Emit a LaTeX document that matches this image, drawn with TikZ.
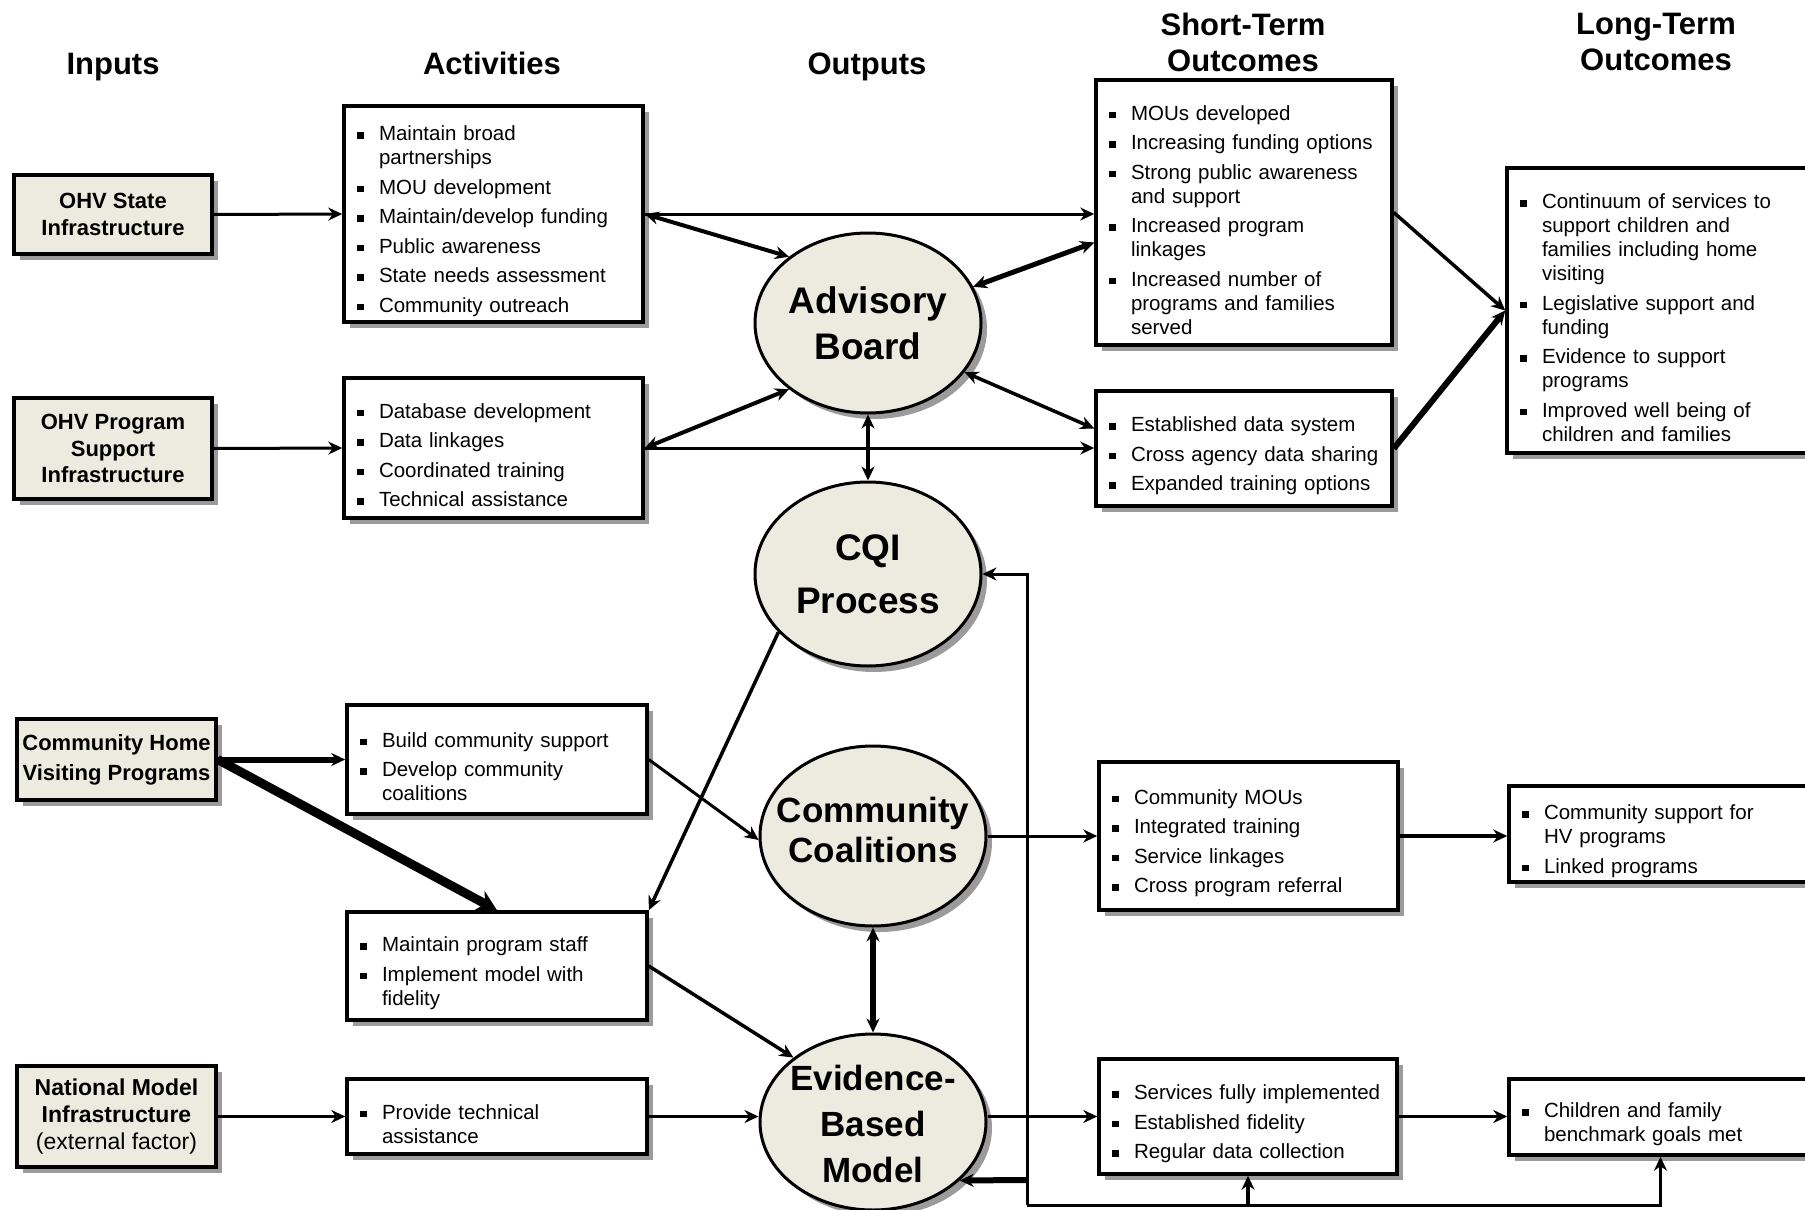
\documentclass[tikz,border=0pt]{standalone}
\usepackage{fontspec}
\setmainfont{Liberation Sans}
\usetikzlibrary{arrows.meta,shapes.geometric,shadows,calc}
\definecolor{beige}{RGB}{237,235,224}
\definecolor{shadowgray}{RGB}{155,155,155}
\newcommand{\bitem}[1]{\setlength{\parskip}{5.5pt}\hyphenpenalty=10000\exhyphenpenalty=10000\par\hangindent=23pt\hangafter=1\noindent\makebox[23pt][l]{\hspace{1pt}\rule[2pt]{6.5pt}{6.5pt}}#1\par}
\begin{document}
\begin{tikzpicture}[x=1pt,y=-1pt,
  sh/.style={drop shadow={shadow xshift=6pt,shadow yshift=-6pt,fill=shadowgray,opacity=1}},
  inbox/.style={draw,line width=3.5pt,fill=beige,sh,align=center,inner sep=0pt,
    font=\bfseries\fontsize{22}{26.5}\selectfont},
  abox/.style={draw,line width=3.5pt,fill=white,sh,align=left,inner xsep=12pt,inner ysep=0pt,
    font=\fontsize{20.5}{24}\selectfont},
  oval/.style={ellipse,draw,line width=3pt,fill=beige,sh,inner sep=0pt,minimum width=226pt},
  otext/.style={align=center,font=\bfseries\fontsize{37}{46}\selectfont},
  ttl/.style={align=center,font=\bfseries\fontsize{31}{36}\selectfont},
  tip/.tip={Stealth[length=14pt,width=13pt]},
  bigtip/.tip={Stealth[length=20pt,width=22pt]},
  conn/.style={line width=3pt,-tip},
  bconn/.style={line width=3pt,tip-tip}
]
\useasboundingbox (0,0) rectangle (1805,1210);
\fill[white] (0,0) rectangle (1805,1210);

% titles
\node[ttl,anchor=base] (tIn) at (113,74) {Inputs};
\node[ttl,anchor=base] (tAct) at (492,74) {Activities};
\node[ttl,anchor=base] (tOut) at (867,74) {Outputs};
\node[ttl] (tST) at (1243,42) {Short-Term\\Outcomes};
\node[ttl] (tLT) at (1656,42) {Long-Term\\Outcomes};

% inputs
\node[inbox,minimum width=198pt,minimum height=79pt] (IN1) at (113,214.5) {OHV State\\Infrastructure};
\node[inbox,minimum width=198pt,minimum height=101pt] (IN2) at (113,448.5) {OHV Program\\Support\\Infrastructure};
\node[inbox,minimum width=199pt,minimum height=81pt,font=\bfseries\fontsize{22}{30}\selectfont] (IN3) at (116.5,759.5) {Community Home\\Visiting Programs};
\node[inbox,minimum width=199pt,minimum height=101pt,font=\bfseries\fontsize{23}{27}\selectfont] (IN4) at (116.5,1116.5) {National Model\\Infrastructure\\{\mdseries (external factor)}};

% activities
\node[abox,minimum width=299pt,minimum height=216pt,text width=275pt] (A1) at (493.5,214) {%
\bitem{Maintain broad\newline partnerships}
\bitem{MOU development}
\bitem{Maintain/develop funding}
\bitem{Public awareness}
\bitem{State needs assessment}
\bitem{Community outreach}};
\node[abox,minimum width=299pt,minimum height=140pt,text width=275pt] (A2) at (493.5,448) {%
\bitem{Database development}
\bitem{Data linkages}
\bitem{Coordinated training}
\bitem{Technical assistance}};
\node[abox,minimum width=300pt,minimum height=109pt,text width=276pt] (A3) at (497,759.5) {%
\bitem{Build community support}
\bitem{Develop community\newline coalitions}};
\node[abox,minimum width=300pt,minimum height=108pt,text width=276pt] (A4) at (497,966) {%
\bitem{Maintain program staff}
\bitem{Implement model with\newline fidelity}};
\node[abox,minimum width=300pt,minimum height=75pt,text width=276pt] (A5) at (497,1116.5) {%
\bitem{Provide technical\newline assistance}};

% outputs
\node[oval,minimum height=180pt] (AB) at (868,323) {};
\node[otext] (ABt) at (868,323) {Advisory\\Board};
\node[oval,minimum height=184pt] (CQI) at (868,574) {};
\node[otext,font=\bfseries\fontsize{37}{53}\selectfont] (CQIt) at (868,574) {CQI\\Process};
\node[oval,minimum height=180pt] (CC) at (873,836) {};
\node[otext,font=\bfseries\fontsize{35}{40}\selectfont] (CCt) at (873,830) {Community\\Coalitions};
\node[oval,minimum height=176pt] (EBM) at (873,1122) {};
\node[otext,font=\bfseries\fontsize{35}{46}\selectfont] (EBMt) at (873,1124) {Evidence-\\Based\\Model};

% short-term outcomes
\node[abox,minimum width=296pt,minimum height=265pt,text width=272pt] (ST1) at (1244,212.5) {%
\bitem{MOUs developed}
\bitem{Increasing funding options}
\bitem{Strong public awareness\newline and support}
\bitem{Increased program\newline linkages}
\bitem{Increased number of\newline programs and families\newline served}};
\node[abox,minimum width=296pt,minimum height=115pt,text width=272pt] (ST2) at (1244,448.5) {%
\bitem{Established data system}
\bitem{Cross agency data sharing}
\bitem{Expanded training options}};
\node[abox,minimum width=299pt,minimum height=148pt,text width=275pt] (ST3) at (1248.5,836) {%
\bitem{Community MOUs}
\bitem{Integrated training}
\bitem{Service linkages}
\bitem{Cross program referral}};
\node[abox,minimum width=298pt,minimum height=115pt,text width=274pt] (ST4) at (1248,1116.5) {%
\bitem{Services fully implemented}
\bitem{Established fidelity}
\bitem{Regular data collection}};

% long-term outcomes
\node[abox,minimum width=305pt,minimum height=285pt,text width=281pt] (LT1) at (1659.5,310.5) {%
\bitem{Continuum of services to\newline support children and\newline families including home\newline visiting}
\bitem{Legislative support and\newline funding}
\bitem{Evidence to support\newline programs}
\bitem{Improved well being of\newline children and families}};
\node[abox,minimum width=303pt,minimum height=96pt,text width=279pt] (LT2) at (1660.5,834) {%
\bitem{Community support for\newline HV programs}
\bitem{Linked programs}};
\node[abox,minimum width=303pt,minimum height=76pt,text width=279pt] (LT3) at (1660.5,1117) {%
\bitem{Children and family\newline benchmark goals met}};

% connectors: inputs -> activities
\draw[conn] (IN1.east) -- (A1.west);
\draw[conn] (IN2.east) -- (A2.west);
\draw[conn,line width=6pt] (IN3.east) -- (A3.west);
\draw[line width=9pt,-bigtip] (IN3.east) -- (A4.north);
\draw[conn] (IN4.east) -- (A5.west);

% activities -> outputs / outcomes
\draw[conn] (A1.east) -- (A1.east -| ST1.west);
\draw[bconn,line width=4pt] (A1.east) -- (AB.140);
\draw[bconn,line width=4pt] (A2.east) -- (AB.220);
\draw[conn] (A2.east) -- (A2.east -| ST2.west);
\draw[bconn,line width=5pt] (AB.19) -- ($(ST1.west)+(0,30)$);
\draw[bconn,line width=3.5pt] (AB.-27) -- ($(ST2.west)+(0,-20)$);
\draw[bconn,line width=3.5pt] (AB.south) -- (CQI.north);
\draw[conn,line width=3.5pt] (CQI.213) -- (A4.north east);
\draw[conn] (A3.east) -- (CC.182);
\draw[conn,line width=3.5pt] (A4.east) -- (EBM.141);
\draw[bconn,line width=6pt] (CC.south) -- (EBM.north);
\draw[conn] (A5.east) -- (A5.east -| EBM.west);
\draw[conn] (CC.east) -- (ST3.west);
\draw[conn] (ST4.west -| EBM.east) -- (ST4.west);

% short-term -> long-term
\draw[conn,line width=3.5pt] (ST1.east) -- (LT1.west);
\draw[conn,line width=6pt] (ST2.east) -- (LT1.west);
\draw[conn,line width=3.5pt] (ST3.east) -- (ST3.east -| LT2.west);
\draw[conn,line width=3.5pt] (ST4.east) -- (ST4.east -| LT3.west);

% feedback loop
\coordinate (loopTop) at (1027,574);
\coordinate (loopBot) at (1027,1205);
\coordinate (loopEBM) at (1027,1180);
\draw[conn] (loopBot) -- (loopTop) -- (CQI.east);
\draw[conn] (loopBot) -- (loopBot -| LT3.south) -- (LT3.south);
\draw[conn,line width=4pt] (loopBot -| ST4.south) -- (ST4.south);
\draw[conn,line width=6pt] (loopEBM) -- (EBM.-34);
\end{tikzpicture}
\end{document}
